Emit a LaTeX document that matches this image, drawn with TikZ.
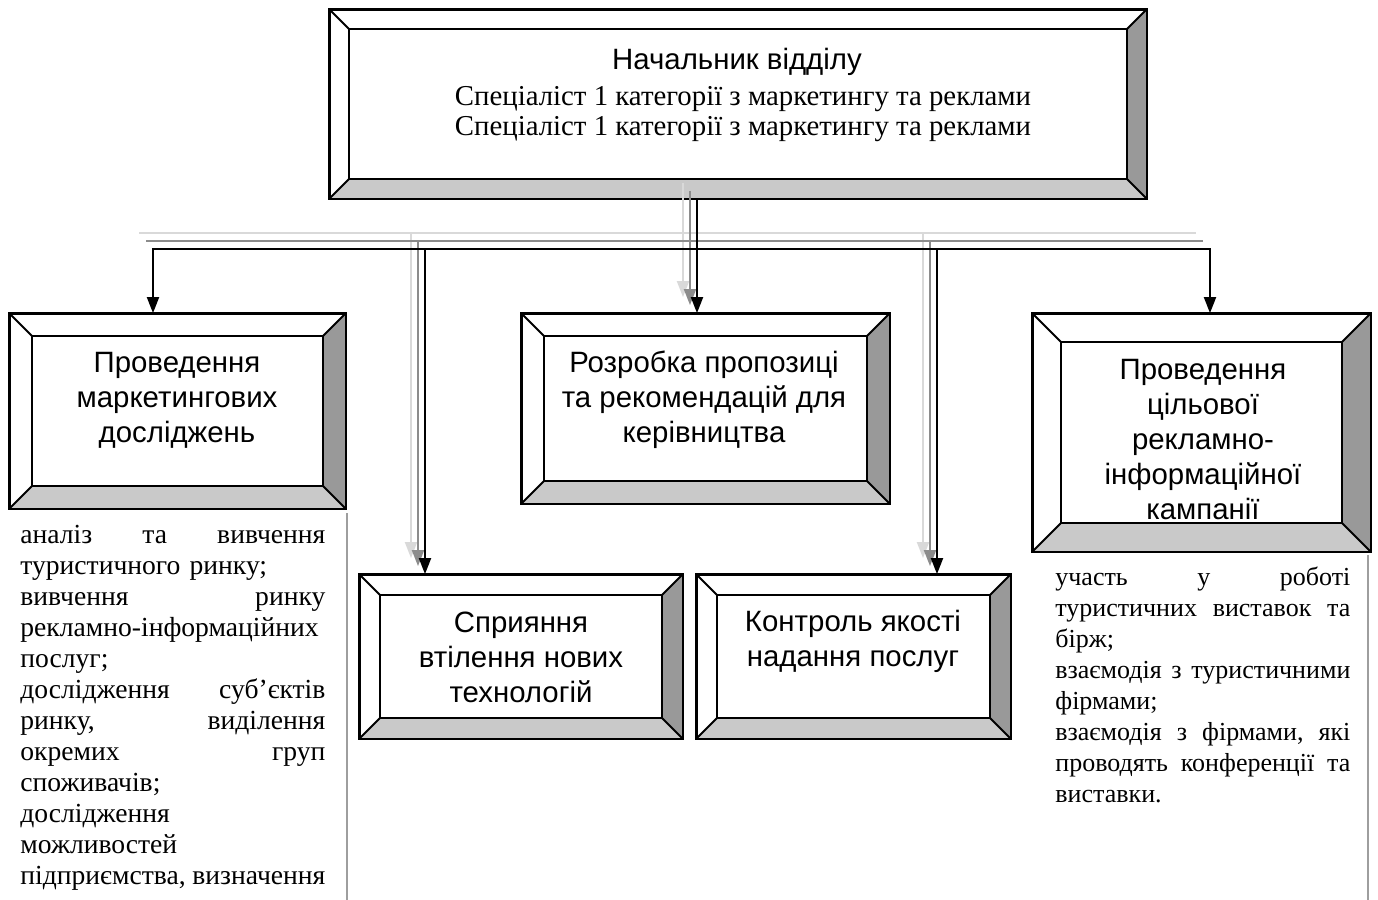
\documentclass[tikz,border=0pt]{standalone}
\usepackage{fontspec}
\setmainfont{Liberation Serif}
\newfontfamily\arialfont{Liberation Sans}
\usetikzlibrary{arrows.meta}
\definecolor{bevelright}{gray}{0.6}
\definecolor{bevelbottom}{gray}{0.79}
\definecolor{shadowmid}{gray}{0.55}
\definecolor{shadowlight}{gray}{0.85}
\definecolor{sidebar}{gray}{0.62}

\begin{document}
\begin{tikzpicture}[x=0.5pt, y=-0.5pt,
  bevelbox/.style={draw, fill=white, line width=0.9pt, inner sep=0pt},
  boxtext/.style={font=\arialfont\fontsize{14.7}{17.5}\selectfont, align=center, inner sep=0pt},
  listtext/.style={font=\fontsize{13.8}{15.5}\selectfont, align=left, inner sep=0pt, anchor=north west},
  link/.style={line width=1pt},
  arr/.style={line width=1pt, -{Triangle[length=8pt,width=6pt]}}]
\useasboundingbox (0,0) rectangle (1378,900);
% bevel round a box: #1 node, #2 depth (px)
\newcommand\bevel[2]{
  \fill[bevelbottom] (#1.south west) -- (#1.south east) -- ([shift={(-#2,-#2)}]#1.south east) -- ([shift={(#2,-#2)}]#1.south west) -- cycle;
  \fill[bevelright] (#1.north east) -- (#1.south east) -- ([shift={(-#2,-#2)}]#1.south east) -- ([shift={(-#2,#2)}]#1.north east) -- cycle;
  \draw[line width=0.9pt] (#1.north west) rectangle (#1.south east);
  \draw[line width=0.9pt] ([shift={(#2,#2)}]#1.north west) rectangle ([shift={(-#2,-#2)}]#1.south east);
  \draw[line width=0.9pt] (#1.north west) -- ([shift={(#2,#2)}]#1.north west);
  \draw[line width=0.9pt] (#1.north east) -- ([shift={(-#2,#2)}]#1.north east);
  \draw[line width=0.9pt] (#1.south east) -- ([shift={(-#2,-#2)}]#1.south east);
  \draw[line width=0.9pt] (#1.south west) -- ([shift={(#2,-#2)}]#1.south west);
}

% head of department
\node[bevelbox, minimum width=408pt, minimum height=94pt] (chief) at (738,104) {};
\bevel{chief}{20}
\node[boxtext] (chieftitle) at (737,62) {Начальник відділу};
\node[boxtext, font=\fontsize{14.4}{15}\selectfont] (chiefstaff) at (743,114) {Спеціаліст 1 категорії з маркетингу та реклами\\Спеціаліст 1 категорії з маркетингу та реклами};

% first row
\node[bevelbox, minimum width=167.5pt, minimum height=97pt] (mkt) at (177.5,411) {};
\bevel{mkt}{23}
\node[boxtext] (mkttext) at (177,400) {Проведення\\маркетингових\\досліджень};

\node[bevelbox, minimum width=183.5pt, minimum height=94.5pt] (prop) at (705.5,408.5) {};
\bevel{prop}{23}
\node[boxtext] (proptext) at (704,400) {Розробка пропозиці\\та рекомендацій для\\керівництва};

\node[bevelbox, minimum width=168.5pt, minimum height=118.5pt] (camp) at (1201.5,432.5) {};
\bevel{camp}{29}
\node[boxtext] (camptext) at (1203,440) {Проведення\\цільової\\рекламно-\\інформаційної\\кампанії};

% second row
\node[bevelbox, minimum width=161pt, minimum height=81.5pt] (tech) at (521,656.5) {};
\bevel{tech}{21}
\node[boxtext] (techtext) at (521,657) {Сприяння\\втілення нових\\технологій};

\node[bevelbox, minimum width=156.5pt, minimum height=81.5pt] (qual) at (853.5,656.5) {};
\bevel{qual}{21}
\node[boxtext] (qualtext) at (853,641) {Контроль якості\\надання послуг};

% task lists
\node[listtext, text width=152.5pt] (mktlist) at (20,525) {%
аналіз\hfill та\hfill вивчення\\
туристичного ринку;\\
вивчення\hfill ринку\\
\mbox{рекламно-інформаційних}\\
послуг;\\
дослідження\hfill суб’єктів\\
ринку,\hfill виділення\\
окремих\hfill груп\\
споживачів;\\
дослідження\\
можливостей\\
підприємства,\hfill визначення};
\draw[sidebar, line width=1pt] (347,513) -- (347,900);

\node[listtext, font=\fontsize{13}{15.5}\selectfont, text width=147.5pt] (camplist) at (1055,566) {%
участь\hfill у\hfill роботі\\
туристичних\hfill виставок\hfill та\\
бірж;\\
взаємодія\hfill з\hfill туристичними\\
фірмами;\\
взаємодія\hfill з\hfill фірмами,\hfill які\\
проводять\hfill конференції\hfill та\\
виставки.};
\draw[sidebar, line width=1pt] (1368,555) -- (1368,900);

% connectors
\coordinate (busW) at (153,249);
\coordinate (busE) at (1210,249);
\coordinate (chiefout) at ([shift={(-41,0)}]chief.south);
\coordinate (propin) at (chiefout |- prop.north);
\coordinate (mktin) at (busW |- mkt.north);
\coordinate (campin) at (busE |- camp.north);
\coordinate (techout) at (425,249);
\coordinate (techin) at (techout |- tech.north);
\coordinate (qualout) at (937,249);
\coordinate (qualin) at (qualout |- qual.north);

% shadows
\foreach \dx/\dy/\col in {-14/-16/shadowlight, -7/-8/shadowmid} {
  \draw[link, \col] ([shift={(\dx,\dy)}]busW) -- ([shift={(\dx,\dy)}]busE);
  \foreach \a/\b in {chiefout/propin, techout/techin, qualout/qualin}
    \draw[arr, \col] ([shift={(\dx,\dy)}]\a) -- ([shift={(\dx,\dy)}]\b);
}

% lines
\draw[arr] (busE) -- (busW) -- (mktin);
\draw[arr] (busW) -- (busE) -- (campin);
\draw[arr] (chiefout) -- (propin);
\draw[arr] (techout) -- (techin);
\draw[arr] (qualout) -- (qualin);
\end{tikzpicture}
\end{document}
